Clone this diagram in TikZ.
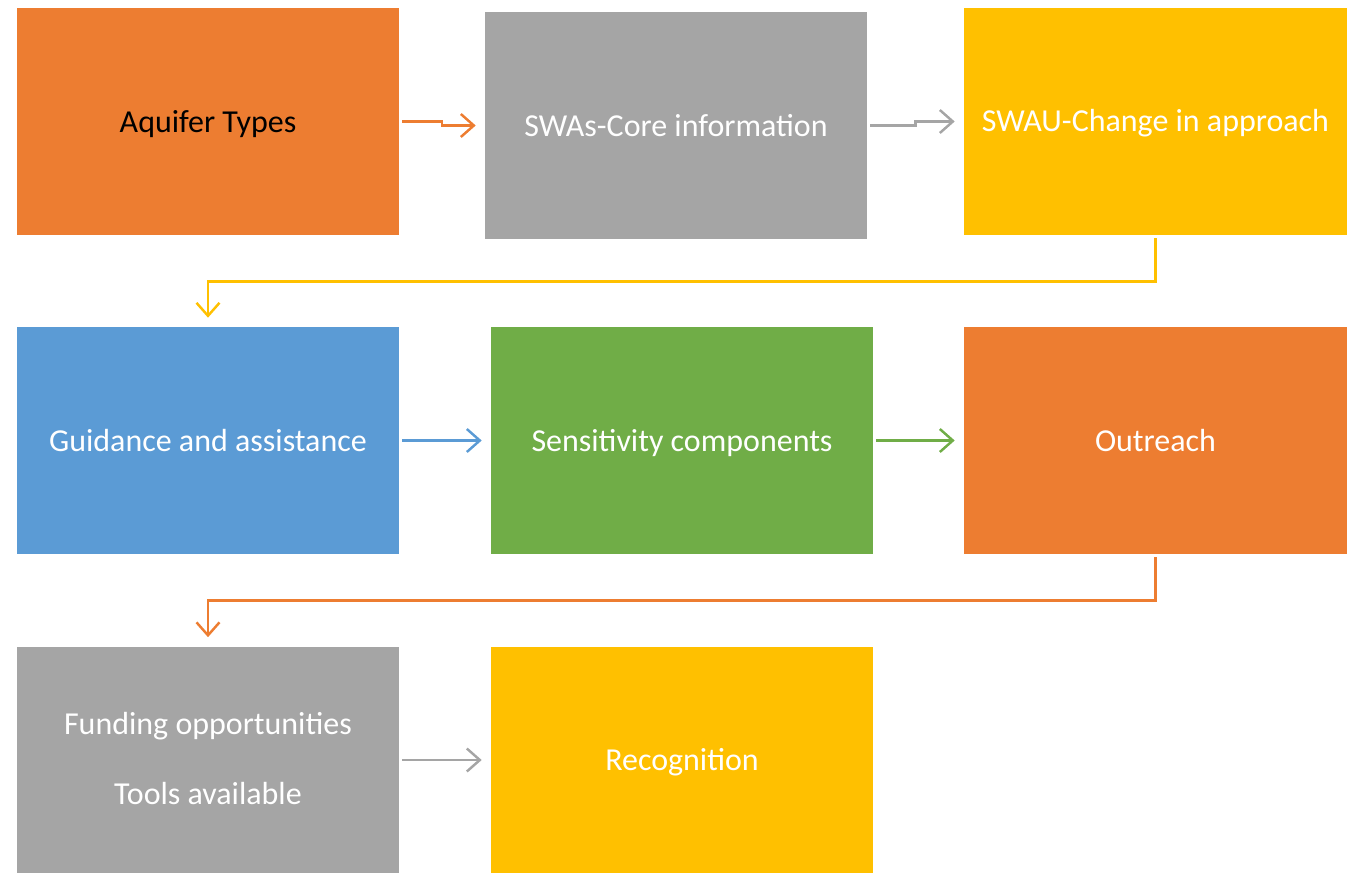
\documentclass[tikz,border=0pt]{standalone}
\usepackage{fontspec}
\setmainfont{Carlito}
\usetikzlibrary{arrows.meta}
\definecolor{boxorange}{HTML}{ED7D31}
\definecolor{boxgray}{HTML}{A5A5A5}
\definecolor{boxyellow}{HTML}{FFC000}
\definecolor{boxblue}{HTML}{5B9BD5}
\definecolor{boxgreen}{HTML}{70AD47}
\newcommand{\boxstrut}{\rule[-2pt]{0pt}{17pt}}
\tikzset{
  box/.style={minimum width=7.64cm, minimum height=4.54cm, inner sep=0pt,
    text=white, align=center, font=\fontsize{18.2}{22}\selectfont,
    execute at begin node=\boxstrut},
  link/.style={line width=1.4pt, -{Straight Barb[length=2.6mm,width=4.6mm]},
    shorten <=0.06cm, shorten >=0.18cm}
}
\begin{document}
\begin{tikzpicture}[x=0.02cm, y=-0.02cm]
      \useasboundingbox (0,0) rectangle (1358,872);
      \draw
        (208,121.5) node[box, fill=boxorange, text=black] (aquifer){Aquifer Types}
        (676,125.5) node[box, fill=boxgray] (swas){SWAs-Core information}
        (1155.5,121.5) node[box, fill=boxyellow, minimum width=7.66cm] (swau){SWAU-Change in approach}
        (208,440.5) node[box, fill=boxblue] (guidance){Guidance and assistance}
        (682,440.5) node[box, fill=boxgreen] (sensitivity){Sensitivity components}
        (1155.5,440.5) node[box, fill=boxorange, minimum width=7.66cm] (outreach){Outreach}
        (208,760) node[box, fill=boxgray] (funding){Funding opportunities\\[18pt]\boxstrut Tools available}
        (682,760) node[box, fill=boxyellow] (recognition){Recognition};
      \begin{scope}[link]
        \draw[boxorange] (aquifer.east) -| (442,123.5) |- (swas.west);
        \draw[boxgray] (swas.east) -| (915.5,123.5) |- (swau.west);
        \draw[boxyellow] (swau.south) -- ++(0,46) -| (guidance.north);
        \draw[boxblue] (guidance) -- (sensitivity);
        \draw[boxgreen] (sensitivity) -- (outreach);
        \draw[boxorange] (outreach.south) -- ++(0,46) -| (funding.north);
        \draw[boxgray] (funding) -- (recognition);
      \end{scope}
    \end{tikzpicture}
\end{document}
